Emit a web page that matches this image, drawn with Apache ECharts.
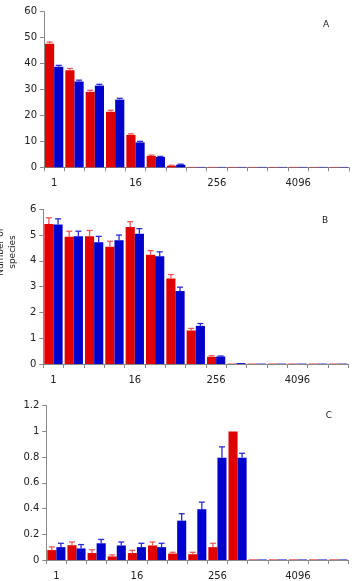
<!DOCTYPE html>
<html><head><meta charset="utf-8">
<script src="https://cdn.jsdelivr.net/npm/echarts@6/dist/echarts.min.js"></script>
<style>html,body{margin:0;padding:0;background:#fff}#c{width:356px;height:581px}</style>
</head><body><div id="c"></div>
<script>
const categories = ['1','2','4','8','16','32','64','128','256','512','1024','2048','4096','8192','16384'];

const aRed     = [47.6, 37.4, 29.1, 21.4, 12.5, 4.4, 0.6, 0.15, 0.15, 0.15, 0.15, 0.15, 0.15, 0.15, 0.15];
const aRedErr  = [0.7, 0.7, 0.6, 0.6, 0.4, 0.3, 0.2, 0, 0, 0, 0, 0, 0, 0, 0];
const aBlue    = [38.8, 33.1, 31.5, 26.1, 9.6, 4.0, 1.0, 0.15, 0.15, 0.15, 0.15, 0.15, 0.15, 0.15, 0.15];
const aBlueErr = [0.5, 0.5, 0.5, 0.5, 0.4, 0.2, 0.2, 0, 0, 0, 0, 0, 0, 0, 0];

const bRed     = [5.43, 4.94, 4.95, 4.55, 5.31, 4.24, 3.32, 1.30, 0.28, 0.015, 0.015, 0.015, 0.015, 0.015, 0.015];
const bRedErr  = [0.24, 0.21, 0.23, 0.21, 0.21, 0.16, 0.15, 0.08, 0.04, 0, 0, 0, 0, 0, 0];
const bBlue    = [5.41, 4.95, 4.72, 4.80, 5.05, 4.18, 2.83, 1.48, 0.29, 0.035, 0.015, 0.015, 0.015, 0.015, 0.015];
const bBlueErr = [0.22, 0.20, 0.23, 0.20, 0.20, 0.17, 0.15, 0.09, 0.02, 0, 0, 0, 0, 0, 0];

const cRed     = [0.077, 0.115, 0.054, 0.028, 0.054, 0.113, 0.05, 0.045, 0.10, 1.0, 0.004, 0.004, 0.004, 0.004, 0.004];
const cRedErr  = [0.025, 0.025, 0.026, 0.012, 0.021, 0.027, 0.01, 0.015, 0.03, 0, 0, 0, 0, 0, 0];
const cBlue    = [0.10, 0.09, 0.13, 0.113, 0.10, 0.10, 0.306, 0.395, 0.795, 0.795, 0.004, 0.004, 0.004, 0.004, 0.004];
const cBlueErr = [0.03, 0.03, 0.03, 0.027, 0.03, 0.03, 0.054, 0.055, 0.085, 0.035, 0, 0, 0, 0, 0];

const yMax = [60, 6, 1.2];
const yInterval = [10, 1, 0.2];
const panelLabels = ['A', 'B', 'C'];

const RED = '#e00000', BLUE = '#0000cc';
const RED_ERR = '#e85a5a', BLUE_ERR = '#2a2ad8';
const FONT = 'DejaVu Sans';
const CAT_GAP = 0.10;

const grids = [
  {left: 44, top: 11.7, width: 305, height: 155.6},
  {left: 43.3, top: 209.3, width: 305, height: 154.7},
  {left: 46.3, top: 405.7, width: 302, height: 156}
];

function errSeries(gi, vals, errs, color, side) {
  const data = vals.map((v, i) => [i, v, v + errs[i], errs[i]]);
  return {
    type: 'custom', xAxisIndex: gi, yAxisIndex: gi, z: 5, silent: true,
    data: data,
    renderItem: function (params, api) {
      if (api.value(3) <= 0) return null;
      const x = api.value(0);
      const base = api.coord([x, api.value(1)]);
      const top = api.coord([x, api.value(2)]);
      const band = api.size([1, 0])[0];
      const bw = band * (1 - CAT_GAP) / 2;
      const cx = base[0] + side * bw / 2;
      const cap = 3;
      return {
        type: 'group',
        children: [
          {type: 'line', shape: {x1: cx, y1: base[1], x2: cx, y2: top[1]}, style: {stroke: color, lineWidth: 1.3}},
          {type: 'line', shape: {x1: cx - cap, y1: top[1], x2: cx + cap, y2: top[1]}, style: {stroke: color, lineWidth: 1.3}}
        ]
      };
    }
  };
}

function barSeries(gi, vals, color) {
  return {
    type: 'bar', xAxisIndex: gi, yAxisIndex: gi, data: vals,
    barGap: '0%', barCategoryGap: (CAT_GAP * 100) + '%',
    itemStyle: {color: color}, silent: true
  };
}

const panels = [[aRed, aRedErr, aBlue, aBlueErr], [bRed, bRedErr, bBlue, bBlueErr], [cRed, cRedErr, cBlue, cBlueErr]];

const xAxes = grids.map((g, i) => ({
  type: 'category', gridIndex: i, data: categories,
  axisLine: {lineStyle: {color: '#888', width: 1}},
  axisTick: {show: true, interval: 0, alignWithLabel: false, length: 4, lineStyle: {color: '#888'}},
  axisLabel: {interval: 3, margin: 11, fontFamily: FONT, fontSize: 10, color: '#222'}
}));
const yAxes = grids.map((g, i) => ({
  type: 'value', gridIndex: i, min: 0, max: yMax[i], interval: yInterval[i],
  axisLine: {show: true, lineStyle: {color: '#888', width: 1}},
  axisTick: {show: true, length: 4, lineStyle: {color: '#888'}},
  splitLine: {show: false},
  axisLabel: {margin: 7, fontFamily: FONT, fontSize: 10, color: '#222'}
}));

const series = [];
panels.forEach((p, i) => {
  series.push(barSeries(i, p[0], RED));
  series.push(barSeries(i, p[2], BLUE));
  series.push(errSeries(i, p[0], p[1], RED_ERR, -1));
  series.push(errSeries(i, p[2], p[3], BLUE_ERR, 1));
});

const labelPos = [[326, 25], [325, 220.5], [329, 415.5]];
const graphic = panelLabels.map((t, i) => ({
  type: 'text', x: labelPos[i][0], y: labelPos[i][1],
  style: {text: t, fontFamily: FONT, fontSize: 9, fill: '#222', align: 'center', verticalAlign: 'middle'}
}));
graphic.push({
  type: 'text', x: 13, y: 252, rotation: Math.PI / 2,
  style: {text: 'species', fontFamily: FONT, fontSize: 9, fill: '#222', align: 'center', verticalAlign: 'middle'}
});
graphic.push({
  type: 'text', x: 1, y: 252, rotation: Math.PI / 2,
  style: {text: 'Number of', fontFamily: FONT, fontSize: 9, fill: '#222', align: 'center', verticalAlign: 'middle'}
});

const chart = echarts.init(document.getElementById('c'), null, {renderer: 'canvas'});
chart.setOption({
  animation: false,
  backgroundColor: '#fff',
  grid: grids,
  xAxis: xAxes,
  yAxis: yAxes,
  series: series,
  graphic: graphic
});
</script>
</body></html>
